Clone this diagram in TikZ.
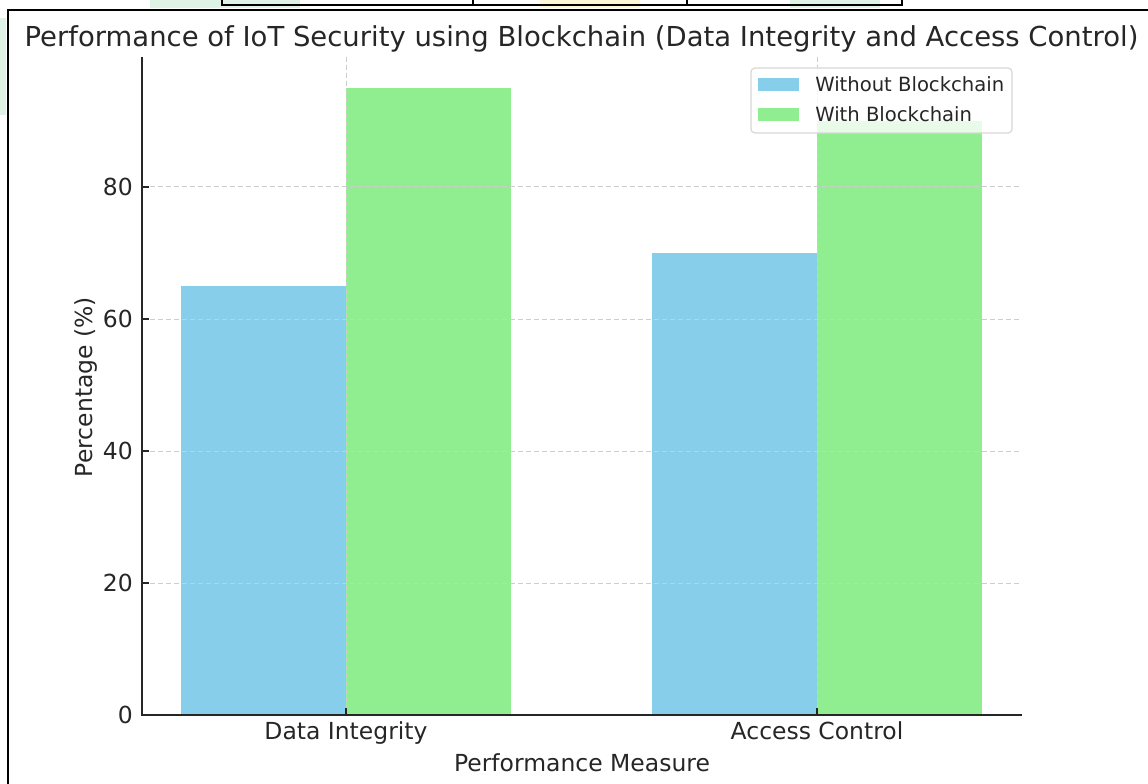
\documentclass[tikz,border=0pt]{standalone}
\usepackage{fontspec}
\setmainfont{DejaVu Sans}

\definecolor{barblue}{RGB}{135,206,235}
\definecolor{bargreen}{RGB}{144,238,144}
\definecolor{gridgray}{RGB}{205,205,205}
\definecolor{inkgray}{RGB}{38,38,38}
\definecolor{wmgreen}{RGB}{222,242,230}
\definecolor{wmyellow}{RGB}{252,246,214}

\begin{document}
\begin{tikzpicture}[x=0.75pt,y=0.75pt,yscale=-1,xscale=1,
  bluebar/.style={fill=barblue},
  greenbar/.style={fill=bargreen},
  gridline/.style={color=gridgray,line width=0.75pt,dash pattern=on 3.75pt off 2.25pt},
  spine/.style={color=inkgray,line width=1.2pt},
  ticklab/.style={text=inkgray,inner sep=0pt,font=\fontsize{17.6}{20}\selectfont},
  leglab/.style={text=inkgray,inner sep=0pt,font=\fontsize{14.7}{17}\selectfont},
  framed/.style={color=black,line width=2pt}]
\useasboundingbox (0,0) rectangle (1148,784);

%Watermark traces
\fill [wmgreen] (0,18) rectangle (6,115) ;
\fill [wmgreen] (150,0) rectangle (300,8) ;
\fill [wmyellow] (540,0) rectangle (640,8) ;
\fill [wmgreen] (790,0) rectangle (880,8) ;

%Straight Lines: page frame
\draw [framed] (8,784) -- (8,10) -- (1148,10) ;
%Straight Lines: table above
\draw [line width=1.5pt] (222,0) -- (222,5) -- (902,5) -- (902,0) ;
\draw [line width=1.5pt] (473,0) -- (473,5) ;
\draw [line width=1.5pt] (687,0) -- (687,5) ;

%Shape: Rectangle (Data Integrity)
\fill [bluebar] (181.2,715) rectangle (346,286) ;
\fill [greenbar] (346,715) rectangle (510.8,88) ;
%Shape: Rectangle (Access Control)
\fill [bluebar] (652.2,715) rectangle (817,253) ;
\fill [greenbar] (817,715) rectangle (981.8,121) ;

%Grid
\draw [gridline] (142,583) -- (1022,583) ;
\draw [gridline] (142,451) -- (1022,451) ;
\draw [gridline] (142,319) -- (1022,319) ;
\draw [gridline] (142,187) -- (1022,187) ;
\draw [gridline] (346,57) -- (346,715) ;
\draw [gridline] (817,57) -- (817,715) ;

%Axes
\draw [spine] (142,57) -- (142,715) -- (1022,715) ;
\draw [spine] (142,715) -- (149,715) (142,583) -- (149,583) (142,451) -- (149,451) (142,319) -- (149,319) (142,187) -- (149,187) ;
\draw [spine] (346,715) -- (346,708) (817,715) -- (817,708) ;

%Tick labels
\node [ticklab,anchor=east] (y0) at (133,715) {0};
\node [ticklab,anchor=east] (y20) at (133,583) {20};
\node [ticklab,anchor=east] (y40) at (133,451) {40};
\node [ticklab,anchor=east] (y60) at (133,319) {60};
\node [ticklab,anchor=east] (y80) at (133,187) {80};
\node [ticklab,anchor=base] (catdi) at (346,739) {Data Integrity};
\node [ticklab,anchor=base] (catac) at (817,739) {Access Control};

%Axis titles
\node [ticklab,anchor=base] (xlab) at (582,771) {Performance Measure};
\node [ticklab,anchor=base,rotate=90] (ylab) at (92,387) {Percentage (\%)};
\node [ticklab,anchor=base,font=\fontsize{20.6}{24}\selectfont] (title) at (581.5,47) {Performance of IoT Security using Blockchain (Data Integrity and Access Control)};

%Legend
\draw [color=gridgray!80,line width=0.9pt,fill=white,fill opacity=0.8,rounded corners=3pt] (751,68) rectangle (1012,133) ;
\fill [bluebar] (758,78) rectangle (799,91) ;
\fill [greenbar] (758,108) rectangle (799,121) ;
\node [leglab,anchor=base west] (legwo) at (815,92) {Without Blockchain};
\node [leglab,anchor=base west] (legw) at (815,122) {With Blockchain};

\end{tikzpicture}
\end{document}
